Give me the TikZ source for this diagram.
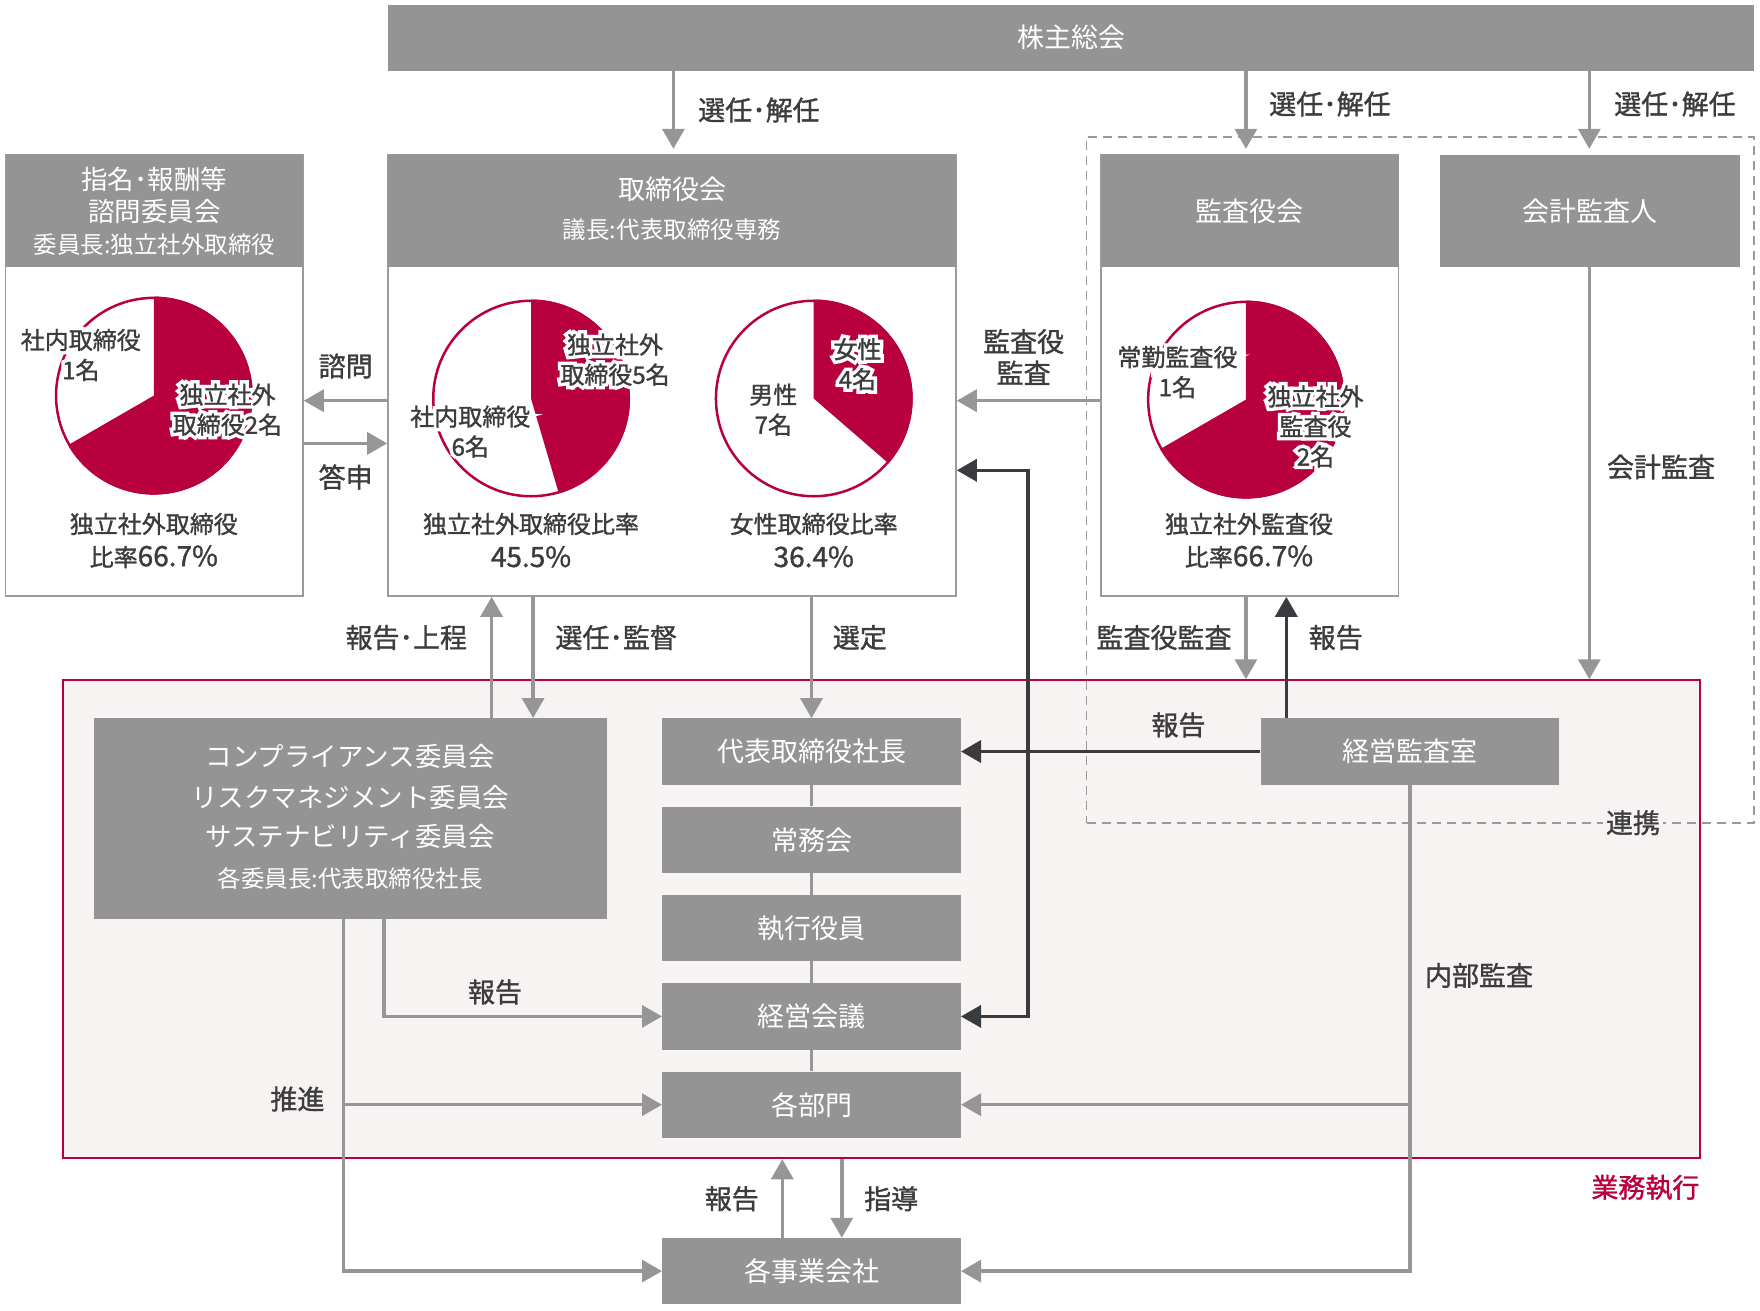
\documentclass[tikz,border=0pt]{standalone}
\usepackage{fontspec}
\setmainfont{Noto Sans CJK JP}
\newfontfamily\halofont[FakeBold=30]{Noto Sans CJK JP}
\newfontfamily\medfont[FakeBold=1.2]{Noto Sans CJK JP}
\usetikzlibrary{arrows.meta}
\definecolor{boxgray}{HTML}{949494}
\definecolor{lngray}{HTML}{969696}
\definecolor{outl}{HTML}{9B9B9B}
\definecolor{dashc}{HTML}{9A9A9A}
\definecolor{dark}{HTML}{3A3B3F}
\definecolor{crim}{HTML}{B9003F}
\definecolor{pinkbg}{HTML}{F8F3F3}
\definecolor{txt}{HTML}{3C3C3C}
\newcommand\fsz[1]{\fontsize{#1}{#1}\selectfont}
\newcommand\halo[1]{\rlap{\halofont\color{white}#1}#1}
\tikzset{
  gbox/.style={fill=boxgray, inner sep=0pt, text=white, font=\fsz{27}},
  wbox/.style={fill=white, draw=outl, line width=1.6pt, inner sep=0pt},
  wt/.style={text=white, inner sep=0pt, align=center, font=\fsz{26.5}},
  wts/.style={text=white, inner sep=0pt, align=center, font=\fsz{23.5}},
  lbl/.style={text=txt, inner sep=0pt, align=center, font=\medfont\fontsize{27}{31.5}\selectfont},
  plbl/.style={text=txt, inner sep=0pt, align=center, font=\medfont\fontsize{24}{30}\selectfont},
  gline/.style={draw=lngray, line width=3.5pt},
  garrow/.style={gline, -{Triangle[length=20pt,width=22pt]}},
  dline/.style={draw=dark, line width=3.5pt},
  darrow/.style={dline, -{Triangle[length=20pt,width=22pt]}},
  pieedge/.style={draw=crim, line width=2.5pt},
}
\begin{document}
\begin{tikzpicture}[x=1pt,y=-1pt]
\useasboundingbox (0,0) rectangle (1760,1310);

% ---- business execution area
\node[fill=pinkbg, draw=crim, line width=2pt, minimum width=1637.5pt, minimum height=478pt, inner sep=0pt] (exec) at (881.65,919.25) {};
\node[text=crim, font=\medfont\fsz{27}, inner sep=0pt] (execl) at (1645.4,1187.5) {業務執行};

% ---- dashed audit cooperation frame
\node[draw=dashc, dash pattern=on 9pt off 6pt, line width=1.8pt, minimum width=667.5pt, minimum height=685.7pt, inner sep=0pt] (dbox) at (1420.25,479.85) {};
\node[lbl, fill=pinkbg, inner xsep=3pt, inner ysep=2pt] (renkei) at (1633,822.7) {連携};

% ---- helper coordinates
\coordinate (a1) at (673.4,0);
\coordinate (a2) at (1245.9,0);
\coordinate (a3) at (1589.3,0);
\coordinate (y1) at (0,400.7);
\coordinate (y2) at (0,443.4);
\coordinate (y3) at (0,470.3);
\coordinate (dv) at (1028,0);
\coordinate (b1) at (491.6,0);
\coordinate (b2) at (533.1,0);
\coordinate (e1) at (1286.3,0);
\coordinate (c1) at (383.9,0);
\coordinate (c2) at (343.5,0);
\coordinate (d1) at (782.3,0);
\coordinate (d2) at (841.8,0);

% ---- top bar
\node[gbox, minimum width=1366pt, minimum height=66.5pt] (kabu) at (1071,37.75) {株主総会};

% ---- 指名・報酬等諮問委員会
\node[wbox, minimum width=297.4pt, minimum height=441pt] (nomb) at (154.3,375.5) {};
\node[gbox, minimum width=297.4pt, minimum height=112pt] (nomh) at (154.3,211) {};
\node[wt] (nomt1) at (154.3,179.6) {指名･報酬等};
\node[wt] (nomt2) at (154.3,211) {諮問委員会};
\node[wts] (nomt3) at (154.3,244.7) {委員長:独立社外取締役};

% ---- 取締役会
\node[wbox, minimum width=568pt, minimum height=441pt] (tkb) at (672,375.5) {};
\node[gbox, minimum width=568pt, minimum height=112pt] (tkh) at (672,211) {};
\node[wt, font=\fsz{27}] (tkt1) at (672,189.7) {取締役会};
\node[wts] (tkt2) at (672,230) {議長:代表取締役専務};

% ---- 監査役会
\node[wbox, minimum width=297.5pt, minimum height=441pt] (kab) at (1249.75,375.5) {};
\node[gbox, minimum width=297.5pt, minimum height=112pt] (kah) at (1249.75,211) {監査役会};

% ---- 会計監査人
\node[gbox, minimum width=300pt, minimum height=112pt] (acct) at (1590,211) {会計監査人};

% ---- pies
\coordinate (p0) at (153.8,395.6);
\coordinate (p1) at (531,398.5);
\coordinate (p2) at (813.7,398.5);
\coordinate (p3) at (1245.9,399.6);
\fill[white] (p0) circle (99);
\fill[crim] (p0) -- ++(-90:99) arc[start angle=-90, end angle=150, radius=99] -- cycle;
\draw[pieedge] (p0) circle (97.75);
\fill[white] (p1) circle (99);
\fill[crim] (p1) -- ++(-90:99) arc[start angle=-90, end angle=73.64, radius=99] -- cycle;
\draw[pieedge] (p1) circle (97.75);
\fill[white] (p2) circle (99);
\fill[crim] (p2) -- ++(-90:99) arc[start angle=-90, end angle=40.91, radius=99] -- cycle;
\draw[pieedge] (p2) circle (97.75);
\fill[white] (p3) circle (99);
\fill[crim] (p3) -- ++(-90:99) arc[start angle=-90, end angle=150, radius=99] -- cycle;
\draw[pieedge] (p3) circle (97.75);

% pie labels
\node[plbl] (pl0a) at (80.8,355) {\halo{社内取締役}\\\halo{1名}};
\node[plbl] (pl0b) at (227.5,409.7) {\halo{独立社外}\\\halo{取締役2名}};
\node[plbl] (pl1a) at (615,359.7) {\halo{独立社外}\\\halo{取締役5名}};
\node[plbl] (pl1b) at (470.3,431.6) {\halo{社内取締役}\\\halo{6名}};
\node[plbl] (pl2a) at (857.5,364.2) {\halo{女性}\\\halo{4名}};
\node[plbl] (pl2b) at (773.3,409.7) {男性\\7名};
\node[plbl] (pl3a) at (1177.4,372.1) {\halo{常勤監査役}\\\halo{1名}};
\node[plbl] (pl3b) at (1315.5,426.5) {\halo{独立社外}\\\halo{監査役}\\\halo{2名}};

% ratio labels
\node[plbl] (r0a) at (153.8,524) {独立社外取締役};
\node[plbl] (r0b) at (153.8,556.7) {比率{\fsz{28}66.7\%}};
\node[plbl] (r1a) at (531,524) {独立社外取締役比率};
\node[plbl, font=\medfont\fsz{28}] (r1b) at (531,556.7) {45.5\%};
\node[plbl] (r2a) at (813.7,524) {女性取締役比率};
\node[plbl, font=\medfont\fsz{28}] (r2b) at (813.7,556.7) {36.4\%};
\node[plbl] (r3a) at (1249,524) {独立社外監査役};
\node[plbl] (r3b) at (1249,556.7) {比率{\fsz{28}66.7\%}};

% ---- committees
\node[gbox, minimum width=513pt, minimum height=201pt] (com) at (350.75,818.75) {};
\node[wt] (comt1) at (350.2,756.5) {コンプライアンス委員会};
\node[wt] (comt2) at (350.2,797) {リスクマネジメント委員会};
\node[wt] (comt3) at (350.2,836) {サステナビリティ委員会};
\node[wts] (comt4) at (350.2,878.9) {各委員長:代表取締役社長};

% ---- execution column
\node[gbox, minimum width=298.6pt, minimum height=66.3pt] (pres) at (811.5,751.5) {代表取締役社長};
\node[gbox, minimum width=298.6pt, minimum height=66.3pt] (jomu) at (811.5,839.8) {常務会};
\node[gbox, minimum width=298.6pt, minimum height=66.3pt] (shikko) at (811.5,928.1) {執行役員};
\node[gbox, minimum width=298.6pt, minimum height=66.3pt] (keiei) at (811.5,1016.4) {経営会議};
\node[gbox, minimum width=298.6pt, minimum height=66.3pt] (bumon) at (811.5,1104.7) {各部門};
\node[gbox, minimum width=298.6pt, minimum height=66.3pt] (jigyo) at (811.5,1271.1) {各事業会社};
\node[gbox, minimum width=298.5pt, minimum height=66.3pt] (audit) at (1409.75,751.5) {経営監査室};

\draw[gline] (pres.south) -- (jomu.north);
\draw[gline] (jomu.south) -- (shikko.north);
\draw[gline] (shikko.south) -- (keiei.north);
\draw[gline] (keiei.south) -- (bumon.north);

% ---- connectors from 株主総会
\draw[garrow, shorten >=6pt] (kabu.south -| a1) -- (tkh.north -| a1);
\draw[garrow, shorten >=6pt] (kabu.south -| a2) -- (kah.north -| a2);
\draw[garrow, shorten >=6pt] (kabu.south -| a3) -- (acct.north -| a3);
\node[lbl] (l1) at (759,110) {選任･解任};
\node[lbl] (l2) at (1330,104) {選任･解任};
\node[lbl] (l3) at (1675,104) {選任･解任};

% ---- advisory committee
\draw[garrow] (tkb.west |- y1) -- (nomb.east |- y1);
\draw[garrow] (nomb.east |- y2) -- (tkb.west |- y2);
\node[lbl] (l4) at (345.7,366) {諮問};
\node[lbl] (l5) at (345.7,477) {答申};

% ---- auditors -> board
\draw[garrow] (kab.west |- y1) -- (tkb.east |- y1);
\node[lbl] (l6) at (1023.6,357) {監査役\\監査};

% ---- board <-> management meeting
\draw[dline, {Triangle[length=20pt,width=22pt]}-{Triangle[length=20pt,width=22pt]}] (keiei.east) -- (keiei.east -| dv) -- (dv |- y3) -- (tkb.east |- y3);

% ---- board -> execution
\draw[garrow] (com.north -| b1) -- (tkb.south -| b1);
\draw[garrow] (tkb.south -| b2) -- (com.north -| b2);
\draw[garrow] (tkb.south -| pres.north) -- (pres.north);
\node[lbl] (l7) at (406.3,637.5) {報告･上程};
\node[lbl] (l8) at (616.2,637.5) {選任･監督};
\node[lbl] (l9) at (859.8,637.5) {選定};

% ---- auditors / accounting auditor
\draw[garrow] (kab.south -| a2) -- (exec.north -| a2);
\draw[darrow] (audit.north -| e1) -- (kab.south -| e1);
\draw[garrow] (acct.south -| a3) -- (exec.north -| a3);
\node[lbl] (l10) at (1164,637.5) {監査役監査};
\node[lbl] (l11) at (1335.7,637.5) {報告};
\node[lbl] (l12) at (1661,467) {会計監査};

% ---- internal audit
\draw[darrow] (audit.west) -- (pres.east);
\node[lbl] (l13) at (1178.5,725) {報告};
\draw[garrow] (audit.south) |- (jigyo.east);
\draw[garrow] (audit.south |- bumon.east) -- (bumon.east);
\node[lbl] (l14) at (1479,975.4) {内部監査};

% ---- committee outputs
\draw[garrow] (com.south -| c1) |- (keiei.west);
\node[lbl] (l15) at (495,992) {報告};
\draw[garrow] (com.south -| c2) |- (jigyo.west);
\draw[garrow] (c2 |- bumon.west) -- (bumon.west);
\node[lbl] (l16) at (297.4,1099) {推進};

% ---- departments <-> group companies
\draw[garrow] (jigyo.north -| d1) -- (exec.south -| d1);
\draw[garrow] (exec.south -| d2) -- (jigyo.north -| d2);
\node[lbl] (l17) at (731.8,1198.7) {報告};
\node[lbl] (l18) at (891.2,1198.7) {指導};

\end{tikzpicture}
\end{document}
